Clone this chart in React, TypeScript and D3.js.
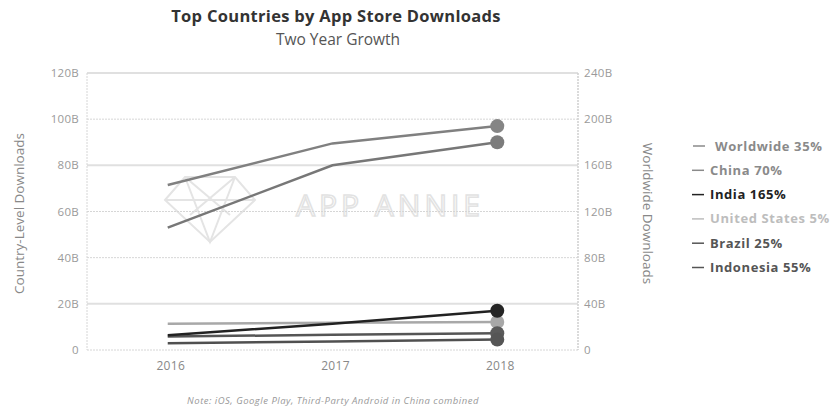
import React from "react";
import * as d3 from "d3";

const years = ["2016", "2017", "2018"];
const worldwide = [143, 179, 194]; // right axis
const china = [53, 80, 90];
const india = [6.4, 11.4, 17];
const unitedStates = [11.4, 11.8, 12.1];
const brazil = [5.8, 6.6, 7.3];
const indonesia = [2.9, 3.7, 4.5];

const leftTicks = [0, 20, 40, 60, 80, 100, 120];
const rightTicks = [0, 40, 80, 120, 160, 200, 240];
const solidTicks = [20, 80, 120];

const legendLabels = ["Worldwide 35%", "China 70%", "India 165%", "United States 5%", "Brazil 25%", "Indonesia 55%"];

const W = 834, H = 407;
const L = 87, R = 578, T = 73, B = 350;
const FONT = "'Open Sans', Lato, sans-serif";

export default function App() {
  const x = d3.scalePoint<string>().domain(years).range([L, R]).padding(0.49);
  const yL = d3.scaleLinear().domain([0, 120]).range([B, T]);
  const yR = d3.scaleLinear().domain([0, 240]).range([B, T]);

  const series = [
    { name: "Worldwide", values: worldwide, y: yR, color: "#808080", dot: "#858585" },
    { name: "China", values: china, y: yL, color: "#777", dot: "#7c7c7c" },
    { name: "United States", values: unitedStates, y: yL, color: "#a8a8a8", dot: "#a8a8a8" },
    { name: "Brazil", values: brazil, y: yL, color: "#555", dot: "#5a5a5a" },
    { name: "Indonesia", values: indonesia, y: yL, color: "#505050", dot: "#555" },
    { name: "India", values: india, y: yL, color: "#222", dot: "#252525" },
  ];
  const legendColors = ["#8a8a8a", "#8a8a8a", "#222", "#bdbdbd", "#555", "#555"];

  return (
    <svg width={W} height={H} style={{ position: "absolute", left: 0, top: 0 }} fontFamily={FONT}>
      <rect width={W} height={H} fill="#fff" />
      <text x={336} y={22} textAnchor="middle" fontSize={16.5} fontWeight="bold" fill="#333" letterSpacing={0.3}>
        Top Countries by App Store Downloads
      </text>
      <text x={338} y={45} textAnchor="middle" fontSize={15.5} fill="#555">
        Two Year Growth
      </text>

      {/* watermark */}
      <g stroke="#e4e4e4" fill="none" strokeWidth={2}>
        <path d="M165,200 L185,177 L235,177 L255,200 L210,242 Z" />
        <path d="M165,200 L255,200 M185,177 L210,242 L235,177 M185,177 L230,215 M235,177 L190,215" />
      </g>
      <text x={390} y={216} textAnchor="middle" fontSize={30} fill="none" stroke="#e2e2e2" strokeWidth={1.5} letterSpacing={4}>
        APP ANNIE
      </text>

      {/* grid */}
      {leftTicks.map((t) => (
        <line key={t} x1={L} x2={R} y1={yL(t)} y2={yL(t)}
          stroke={solidTicks.includes(t) ? "#e0e0e0" : "#d6d6d6"}
          strokeWidth={solidTicks.includes(t) ? 2 : 1}
          strokeDasharray={solidTicks.includes(t) ? undefined : "2,1"} />
      ))}
      <line x1={L} x2={L} y1={T} y2={B} stroke="#d6d6d6" strokeDasharray="2,1" />
      <line x1={R} x2={R} y1={T} y2={B} stroke="#d0d0d0" strokeWidth={1.5} strokeDasharray="2,1" />

      {leftTicks.map((t) => (
        <text key={t} x={79} y={yL(t) + 4} textAnchor="end" fontSize={11.5} fill="#9a9a9a" letterSpacing={0.3}>
          {t === 0 ? "0" : `${t}B`}
        </text>
      ))}
      {rightTicks.map((t) => (
        <text key={t} x={584} y={yR(t) + 4} textAnchor="start" fontSize={11.5} fill="#9a9a9a" letterSpacing={0.3}>
          {t === 0 ? "0" : `${t}B`}
        </text>
      ))}
      {years.map((yr) => (
        <text key={yr} x={(x(yr) as number) + 3} y={370} textAnchor="middle" fontSize={12} fill="#888" letterSpacing={0.3}>
          {yr}
        </text>
      ))}

      <text transform={`translate(24,${(T + B) / 2 + 2}) rotate(-90)`} textAnchor="middle" fontSize={13.5} fill="#888">
        Country-Level Downloads
      </text>
      <text transform={`translate(643,${(T + B) / 2 + 2}) rotate(90)`} textAnchor="middle" fontSize={13.5} fill="#888">
        Worldwide Downloads
      </text>

      {series.map((s) => {
        const line = d3.line<number>().x((_, i) => x(years[i]) as number).y((v) => s.y(v));
        return (
          <g key={s.name}>
            <path d={line(s.values) || ""} fill="none" stroke={s.color} strokeWidth={2.5} />
            <circle cx={x(years[2]) as number} cy={s.y(s.values[2])} r={7} fill={s.dot} />
          </g>
        );
      })}

      {legendLabels.map((lab, i) => (
        <g key={lab} transform={`translate(0,${146 + i * 24.3})`}>
          <line x1={i === 0 ? 693 : 692} x2={i === 0 ? 705 : 704} y1={0} y2={0} stroke={legendColors[i]} strokeWidth={1.5} />
          <text x={i === 0 ? 715 : 710} y={4.5} fontSize={13} fontWeight="bold" fill={legendColors[i]} letterSpacing={0.6}>
            {lab}
          </text>
        </g>
      ))}

      <text x={333} y={404} textAnchor="middle" fontSize={9.5} fontStyle="italic" fill="#999" letterSpacing={0.5}>
        Note: iOS, Google Play, Third-Party Android in China combined
      </text>
    </svg>
  );
}
